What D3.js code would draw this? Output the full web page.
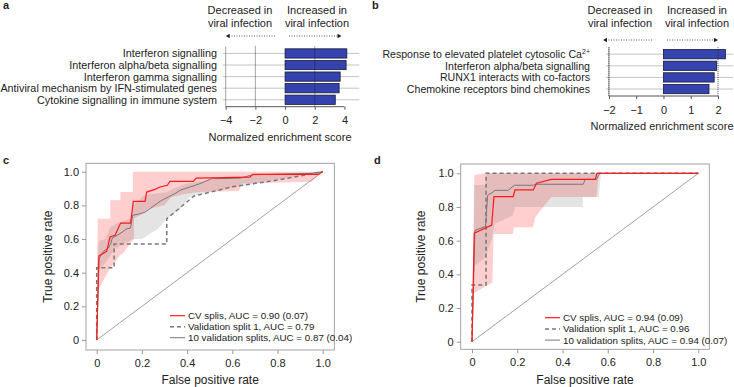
<!DOCTYPE html>
<html>
<head>
<meta charset="utf-8">
<script src="https://cdn.jsdelivr.net/npm/d3@7"></script>
<style>
  body { margin: 0; background: #fff; }
  text { font-family: "Liberation Sans", Arial, sans-serif; fill: #222; }
</style>
</head>
<body>
<div id="chart"></div>
<script>
// ---- panel a / b : enrichment bars ----
const pathwaysA = ["Interferon signalling", "Interferon alpha/beta signalling", "Interferon gamma signalling",
  "Antiviral mechanism by IFN-stimulated genes", "Cytokine signalling in immune system"];
const nesA = [4.16, 4.11, 3.71, 3.64, 3.38];
const ticksA = [-4, -2, 0, 2, 4];

const pathwaysB = ["Response to elevated platelet cytosolic Ca", "Interferon alpha/beta signalling",
  "RUNX1 interacts with co-factors", "Chemokine receptors bind chemokines"];
const nesB = [2.27, 1.95, 1.86, 1.67];
const ticksB = [-2, -1, 0, 1, 2];

// ---- panel c / d : ROC curves, [fpr, tpr] ----
const legendC = ["CV splis, AUC = 0.90 (0.07)", "Validation split 1, AUC = 0.79", "10 validation splits, AUC = 0.87 (0.04)"];
const cvC = [[0,0],[0.01,0.5],[0.044,0.527],[0.059,0.612],[0.081,0.622],[0.106,0.695],[0.15,0.695],[0.162,0.824],
  [0.214,0.824],[0.221,0.879],[0.258,0.895],[0.28,0.909],[0.313,0.919],[0.324,0.943],[0.428,0.943],[0.44,0.962],
  [0.678,0.968],[0.69,0.984],[0.98,0.984],[1,1]];
const valC = [[0,0],[0,0.43],[0.077,0.43],[0.077,0.57],[0.31,0.57],[0.31,0.72],[0.43,0.855],[0.6,0.91],[0.8,0.95],[1,1]];
const splitsC = [[0,0],[0.01,0.483],[0.03,0.527],[0.052,0.547],[0.062,0.572],[0.069,0.606],[0.103,0.632],[0.133,0.661],
  [0.15,0.665],[0.159,0.741],[0.192,0.75],[0.214,0.76],[0.236,0.78],[0.265,0.81],[0.288,0.83],[0.317,0.85],[0.347,0.87],
  [0.369,0.89],[0.413,0.909],[0.457,0.929],[0.508,0.958],[0.634,0.962],[0.692,0.982],[0.95,0.99],[1,1]];
const cvBandUpC = [[0,0.3],[0.005,0.72],[0.06,0.72],[0.06,0.83],[0.105,0.83],[0.105,0.88],[0.16,0.88],[0.16,1],[1,1]];
const cvBandLowC = [[0.005,0.3],[0.02,0.33],[0.04,0.38],[0.06,0.43],[0.08,0.46],[0.1,0.5],[0.12,0.52],[0.14,0.56],
  [0.165,0.6],[0.165,0.72],[0.2,0.75],[0.23,0.78],[0.3,0.8],[0.33,0.85],[0.4,0.87],[0.457,0.88],[0.63,0.885],
  [0.64,0.93],[0.95,0.94],[1,1]];
const spBandUpC = [[0,0.38],[0.01,0.59],[0.04,0.6],[0.06,0.67],[0.1,0.7],[0.15,0.72],[0.16,0.8],[0.21,0.86],[0.31,0.88],
  [0.34,0.9],[0.4,0.93],[0.55,0.96],[0.7,0.98],[1,1]];
const spBandLowC = [[0.005,0.38],[0.01,0.42],[0.04,0.46],[0.06,0.5],[0.08,0.54],[0.12,0.57],[0.16,0.6],[0.2,0.6],
  [0.27,0.66],[0.31,0.72],[0.37,0.78],[0.41,0.85],[0.5,0.88],[0.7,0.93],[1,1]];

const legendD = ["CV splis, AUC = 0.94 (0.09)", "Validation split 1, AUC = 0.96", "10 validation splits, AUC = 0.94 (0.07)"];
const cvD = [[0,0],[0.01,0.644],[0.087,0.693],[0.097,0.861],[0.182,0.861],[0.19,0.901],[0.271,0.901],[0.285,0.941],
  [0.35,0.964],[0.545,0.964],[0.552,1],[1,1]];
const valD = [[0,0],[0,0.337],[0.062,0.337],[0.062,1],[1,1]];
const splitsD = [[0,0],[0.013,0.661],[0.06,0.685],[0.069,0.869],[0.094,0.889],[0.1,0.899],[0.16,0.899],[0.187,0.929],
  [0.271,0.929],[0.28,0.935],[0.492,0.935],[0.5,0.964],[0.55,0.964],[0.565,1],[1,1]];
const cvBandUpD = [[0.005,0.3],[0.01,0.99],[0.06,1],[0.56,1]];
const cvBandLowD = [[0.01,0.29],[0.06,0.33],[0.09,0.35],[0.095,0.64],[0.18,0.64],[0.185,0.68],[0.27,0.68],[0.28,0.74],
  [0.35,0.86],[0.55,0.86],[0.56,1]];
const spBandUpD = [[0.005,0.45],[0.01,0.93],[0.06,0.93],[0.065,1],[0.57,1]];
const spBandLowD = [[0.01,0.45],[0.06,0.5],[0.09,0.62],[0.1,0.7],[0.18,0.75],[0.19,0.8],[0.49,0.8],[0.49,0.86],
  [0.56,0.86],[0.57,1]];

const rocTicks = [0, 0.2, 0.4, 0.6, 0.8, 1.0];

const svg = d3.select("#chart").append("svg")
  .attr("width", 734).attr("height", 387);

// panel letters
[["a", 3, 9], ["b", 372, 9], ["c", 3, 164], ["d", 374, 164]].forEach(p => {
  svg.append("text").attr("x", p[1]).attr("y", p[2])
    .attr("font-size", 11).attr("font-weight", "bold").text(p[0]);
});

function barPanel(o) {
  const x = d3.scaleLinear().domain(o.domain).range(o.range);
  const y = d3.scaleBand().domain(o.labels).range([o.top, o.bottom]).padding(0.2);
  const g = svg.append("g");
  const x0 = x(o.ticks[0]);

  // header text + arrows
  [["Decreased in", o.decX], ["Increased in", o.incX]].forEach(h => {
    g.append("text").attr("x", h[1]).attr("y", 14).attr("text-anchor", "middle")
      .attr("font-size", 11).text(h[0]);
    g.append("text").attr("x", h[1]).attr("y", 27).attr("text-anchor", "middle")
      .attr("font-size", 11).text("viral infection");
  });
  const arr = [[o.arrL[1], o.arrL[0], -1], [o.arrR[0], o.arrR[1], 1]];
  arr.forEach(a => {
    g.append("line").attr("x1", a[0]).attr("x2", a[1] - a[2] * 3)
      .attr("y1", o.arrY).attr("y2", o.arrY)
      .attr("stroke", "#333").attr("stroke-width", 0.8).attr("stroke-dasharray", "1,1.5");
    g.append("path")
      .attr("d", `M${a[1]},${o.arrY} l${-a[2] * 4},-2.3 l0,4.6 z`)
      .attr("fill", "#222");
  });

  // row lines
  g.selectAll(".row").data(o.labels).join("line")
    .attr("x1", x0 - 3).attr("x2", o.range[1])
    .attr("y1", d => y(d) + y.bandwidth() / 2).attr("y2", d => y(d) + y.bandwidth() / 2)
    .attr("stroke", "#aaa").attr("stroke-width", 0.7);

  // left axis line
  g.append("line").attr("x1", x0).attr("x2", x0).attr("y1", o.top).attr("y2", o.bottom)
    .attr("stroke", "#888").attr("stroke-width", 0.8);

  // bars
  g.selectAll("rect").data(o.values).join("rect")
    .attr("x", x(0)).attr("y", (d, i) => y(o.labels[i]))
    .attr("width", d => x(d) - x(0)).attr("height", y.bandwidth())
    .attr("fill", "#3443ad").attr("stroke", "#1a1a3a").attr("stroke-width", 0.8);

  // dotted reference lines
  o.refs.forEach(r => {
    g.append("line").attr("x1", x(r)).attr("x2", x(r)).attr("y1", o.top).attr("y2", o.bottom)
      .attr("stroke", "#222").attr("stroke-width", 0.8).attr("stroke-dasharray", "1,1");
  });

  // bottom axis
  const ax = g.append("g").attr("transform", `translate(0,${o.bottom})`)
    .call(d3.axisBottom(x).tickValues(o.ticks).tickFormat(d3.format("d")).tickSize(3).tickSizeOuter(0));
  ax.select(".domain").attr("stroke", "#555")
    .attr("d", `M${x0},0H${x(o.ticks[o.ticks.length - 1])}`);
  ax.selectAll(".tick line").attr("stroke", "#555");
  ax.selectAll(".tick text").attr("font-size", 11).attr("dy", "0.71em").attr("y", 10)
    .attr("font-family", "Liberation Sans, Arial, sans-serif").attr("fill", "#222");

  g.append("text").attr("x", o.titleX).attr("y", o.bottom + 34).attr("text-anchor", "middle")
    .attr("font-size", 11).text("Normalized enrichment score");

  // labels
  o.labels.forEach((lab, i) => {
    const t = g.append("text").attr("x", o.labelX).attr("y", y(lab) + y.bandwidth() / 2 + 4)
      .attr("text-anchor", "end").attr("font-size", o.fs).text(lab);
    if (o.sup && i === 0) {
      t.append("tspan").attr("font-size", 7).attr("dy", -4.5).text("2+");
    }
  });
}

barPanel({
  labels: pathwaysA, values: nesA, ticks: ticksA, domain: [-4, 5], range: [225.7, 359.3],
  top: 46.5, bottom: 106.7, refs: [-2, 2], labelX: 217, fs: 10.8,
  decX: 240, incX: 317, arrY: 36, arrL: [225.7, 275], arrR: [289, 341.5], titleX: 280
});
barPanel({
  labels: pathwaysB, values: nesB, ticks: ticksB, domain: [-2.4, 2.55], range: [598, 733],
  top: 47.2, bottom: 96, refs: [-2, 2], labelX: 590, fs: 10.6, sup: true,
  decX: 620, incX: 697, arrY: 40, arrL: [603, 652], arrR: [667, 718], titleX: 662
});

function rocPanel(o) {
  const x = d3.scaleLinear().domain([0, 1]).range(o.xr);
  const y = d3.scaleLinear().domain([0, 1]).range(o.yr);
  const g = svg.append("g");
  const line = d3.line().x(d => x(d[0])).y(d => y(d[1]));
  const band = (up, low) => line(up.concat(low.slice().reverse())) + "Z";

  g.append("path").attr("d", band(o.cvUp, o.cvLow)).attr("fill", "#ff3b3b").attr("fill-opacity", 0.25);
  g.append("path").attr("d", band(o.spUp, o.spLow)).attr("fill", "#7a7a7a").attr("fill-opacity", 0.2);

  g.append("line").attr("x1", x(0)).attr("y1", y(0)).attr("x2", x(1)).attr("y2", y(1))
    .attr("stroke", "#888").attr("stroke-width", 0.8);

  g.append("path").attr("d", line(o.val)).attr("fill", "none")
    .attr("stroke", "#777").attr("stroke-width", 1.5).attr("stroke-dasharray", "4,3");
  g.append("path").attr("d", line(o.splits)).attr("fill", "none")
    .attr("stroke", "#777").attr("stroke-width", 1);
  g.append("path").attr("d", line(o.cv)).attr("fill", "none")
    .attr("stroke", "#ff1a1a").attr("stroke-width", 1.2);

  // box
  g.append("rect").attr("x", o.box[0]).attr("y", o.box[1])
    .attr("width", o.box[2] - o.box[0]).attr("height", o.box[3] - o.box[1])
    .attr("fill", "none").attr("stroke", "#999").attr("stroke-width", 0.9);

  const fmt = d => d === 0 ? "0" : d3.format(".1f")(d);
  const ax = g.append("g").attr("transform", `translate(0,${o.box[3]})`)
    .call(d3.axisBottom(x).tickValues(rocTicks).tickFormat(fmt).tickSize(4).tickSizeOuter(0));
  const ay = g.append("g").attr("transform", `translate(${o.box[0]},0)`)
    .call(d3.axisLeft(y).tickValues(rocTicks).tickFormat(fmt).tickSize(4).tickSizeOuter(0));
  [ax, ay].forEach(a => {
    a.select(".domain").remove();
    a.selectAll(".tick line").attr("stroke", "#999");
    a.selectAll(".tick text").attr("font-size", 11).attr("fill", "#222")
      .attr("font-family", "Liberation Sans, Arial, sans-serif");
  });
  ax.selectAll(".tick text").attr("y", 9);
  ay.selectAll(".tick text").attr("x", -7);

  g.append("text").attr("x", (o.box[0] + o.box[2]) / 2).attr("y", 384).attr("text-anchor", "middle")
    .attr("font-size", 12).text("False positive rate");
  g.append("text").attr("transform", `translate(${o.ytX},${(o.box[1] + o.box[3]) / 2}) rotate(-90)`)
    .attr("text-anchor", "middle").attr("font-size", 12).text("True positive rate");

  // legend
  const styles = [{ c: "#ff1a1a", w: 1.2, d: null }, { c: "#777", w: 1.5, d: "4,3" }, { c: "#777", w: 1, d: null }];
  o.legend.forEach((t, i) => {
    const ly = o.leg[1] + i * o.leg[2];
    g.append("line").attr("x1", o.leg[0]).attr("x2", o.leg[0] + 15).attr("y1", ly).attr("y2", ly)
      .attr("stroke", styles[i].c).attr("stroke-width", styles[i].w).attr("stroke-dasharray", styles[i].d);
    g.append("text").attr("x", o.leg[0] + 18).attr("y", ly + 3.5).attr("font-size", 9.8).text(t);
  });
}

rocPanel({
  xr: [96.7, 322.7], yr: [340, 171.7], box: [86, 163.3, 334.3, 350], ytX: 52,
  cv: cvC, val: valC, splits: splitsC, cvUp: cvBandUpC, cvLow: cvBandLowC, spUp: spBandUpC, spLow: spBandLowC,
  legend: legendC, leg: [170, 315.7, 11]
});
rocPanel({
  xr: [472, 698.3], yr: [341.7, 173.3], box: [460.7, 164, 709.3, 349.3], ytX: 425,
  cv: cvD, val: valD, splits: splitsD, cvUp: cvBandUpD, cvLow: cvBandLowD, spUp: spBandUpD, spLow: spBandLowD,
  legend: legendD, leg: [545, 317.7, 11.2]
});
</script>
</body>
</html>
